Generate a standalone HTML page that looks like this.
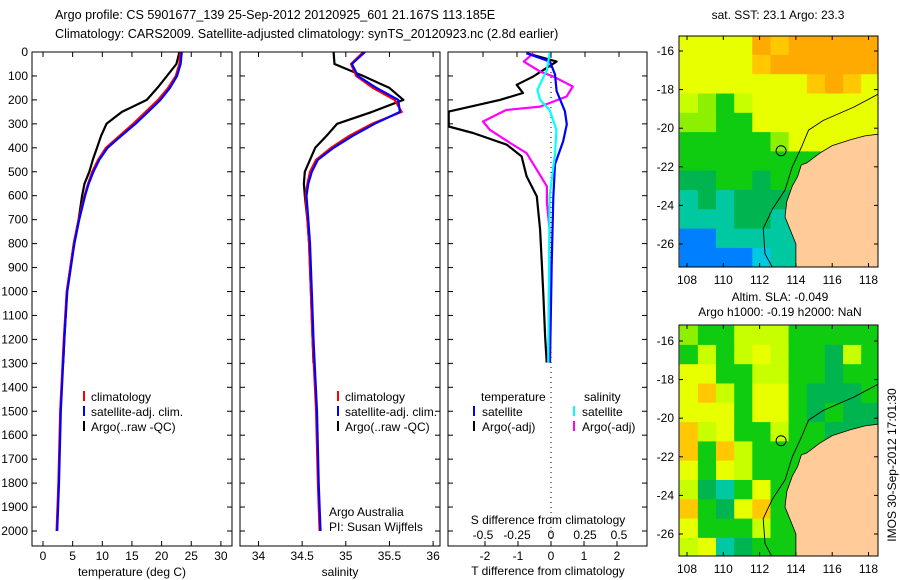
<!DOCTYPE html>
<html><head><meta charset="utf-8">
<style>
html,body{margin:0;padding:0;background:#fff;}
svg{display:block;font-family:"Liberation Sans",sans-serif;font-size:12px;}
</style></head>
<body>
<svg id="fig" width="900" height="580" viewBox="0 0 900 580">
<text x="55" y="19" font-size="12.6">Argo profile: CS 5901677_139 25-Sep-2012 20120925_601 21.167S 113.185E</text>
<text x="55" y="38" font-size="12.6">Climatology: CARS2009. Satellite-adjusted climatology: synTS_20120923.nc (2.8d earlier)</text>
<g id="plots"></g>
<text x="778" y="19" text-anchor="middle">sat. SST: 23.1 Argo: 23.3</text>
<text x="780" y="301" text-anchor="middle">Altim. SLA: -0.049</text>
<text x="780" y="316" text-anchor="middle">Argo h1000: -0.19 h2000: NaN</text>
<text transform="translate(896,465) rotate(-90)" text-anchor="middle">IMOS 30-Sep-2012 17:01:30</text>
</svg>
<script>
// ---- Profile data (depth in m) ----
const depthTicks = [0,100,200,300,400,500,600,700,800,900,1000,1100,1200,1300,1400,1500,1600,1700,1800,1900,2000];
const tempTicks = [0,5,10,15,20,25,30];
const salTicks = [34,34.5,35,35.5,36];
const salTickLabels = ["34","34.5","35","35.5","36"];
const tdiffTicks = [-2,-1,0,1,2];
const sdiffTicks = [-0.5,-0.25,0,0.25,0.5];
const sdiffTickLabels = ["-0.5","-0.25","0","0.25","0.5"];

const climDepth = [0,50,100,150,200,250,300,350,400,450,500,550,600,700,800,1000,1200,1500,1800,2000];
const climTemp  = [23.2,23.0,22.4,21.1,19.4,17.3,15.2,12.9,10.6,9.3,8.3,7.6,7.0,6.0,5.2,4.0,3.5,2.9,2.6,2.3];
const satTemp   = [23.4,23.2,22.6,21.4,19.8,17.7,15.6,13.2,10.9,9.5,8.5,7.7,7.1,6.1,5.3,4.1,3.6,3.0,2.7,2.4];
const climSal   = [35.2,35.06,35.12,35.31,35.56,35.64,35.3,35.04,34.83,34.66,34.59,34.56,34.54,34.56,34.58,34.6,34.62,34.66,34.68,34.7];
const satSal    = [35.22,35.07,35.14,35.35,35.6,35.62,35.33,35.08,34.86,34.68,34.61,34.57,34.55,34.57,34.59,34.61,34.63,34.67,34.69,34.71];

const argoDepth = [0,50,100,150,200,250,300,350,400,450,500,550,600,700,800,1000,1200,1300];
const argoTemp  = [23.0,22.5,20.9,19.3,17.5,13.3,10.7,9.8,9.1,8.4,7.8,7.0,6.6,6.0,5.2,4.05,3.6,3.4];
const argoSal   = [34.86,34.87,35.2,35.5,35.66,35.3,34.9,34.78,34.65,34.59,34.53,34.52,34.53,34.56,34.58,34.6,34.62,34.63];

const tdDepthArgo = [5,40,103,137,171,200,249,311,338,387,436,519,603,742,882,1019,1186,1297];
const tdArgo      = [-0.74,0.17,-0.55,-1.04,-0.85,-1.55,-3.1,-3.1,-2.36,-1.34,-0.89,-0.74,-0.43,-0.33,-0.28,-0.23,-0.18,-0.13];
const tdDepthSat  = [5,40,94,163,247,302,372,469,608,885,1297];
const tdSat       = [-0.75,-0.03,0.12,0.17,0.42,0.48,0.37,0.12,0.07,0.02,-0.03];
const sdDepthArgo = [5,40,82,103,144,186,228,242,290,325,380,422,491,561,630,741,1297];
const sdArgo      = [-0.13,-0.2,-0.08,0.02,0.16,0.115,-0.08,-0.33,-0.5,-0.45,-0.3,-0.18,-0.105,-0.03,-0.03,-0.01,-0.02];
const sdDepthSat  = [5,75,158,200,242,325,422,603,1297];
const sdSat       = [-0.01,-0.03,-0.1,-0.08,-0.01,0.04,0.03,-0.01,-0.02];

// ---- Map data: 11 cols (lon 107.6..118.6) x 12 rows (lat -15.2..-27.2) ----
const palette = {O:"#ffaa00",o:"#ffc800",Y:"#e8ff00",y:"#c8ff00",Q:"#8cf000",G:"#10cc10",D:"#00b450",T:"#00c8a0",C:"#00c8e0",B:"#0080ff"};
const sstGrid = [
"YYYYOoOOOOO","YYYYoOOOOOO","YYYYYYYoOoY","yQGyYYYYYYY","QQGGYYYYYYY",
"GGGGGQYYYYY","GGGGGGGGQQQ","DDGGDGGGGGG","TDTDDDDGGGG","TTTDDTDDDDD","BBTTTTTTTTT","BBBBCTTTTTT"];
const slaGrid = [
"QGGyyyGGGGG","GyGyYyGGDyG","YYGGyyGGDGG","YoyGYYGDDDG","YYYGYYGDGDD",
"oyYGGyGGDDD","oGoyGGGGGGG","YGYyGGGGGGG","yDTGYGGGGGG","oGDYoGGGGGG","YGGGyGGGGGG","yYTDGGGGGGG"];
const landLon = [118.6,117.8,117.0,116.0,115.3,114.6,114.3,114.1,113.8,113.5,113.4,113.7,114.0,114.0,118.6];
const landLat = [-20.3,-20.4,-20.6,-20.9,-21.3,-21.8,-21.9,-22.5,-23.0,-23.8,-24.6,-25.3,-26.0,-27.2,-27.2];
const contLon = [118.6,117.2,115.5,114.7,114.3,113.8,113.4,112.7,112.2,112.3,112.7];
const contLat = [-18.2,-18.9,-19.6,-20.1,-21.0,-22.0,-23.2,-24.2,-25.2,-26.5,-27.2];
const lonTicks = [108,110,112,114,116,118];
const latTicks = [-16,-18,-20,-22,-24,-26];
const argoLon = 113.185, argoLat = -21.167;

const NS="http://www.w3.org/2000/svg";
const root=document.getElementById('plots');
function el(tag,attrs,parent){const e=document.createElementNS(NS,tag);for(const k in attrs)e.setAttribute(k,attrs[k]);(parent||root).appendChild(e);return e;}
function txt(x,y,s,anchor,parent){const t=el('text',{x:x,y:y,'text-anchor':anchor||'start'},parent);t.textContent=s;return t;}

const PT=52, PB=546;
const yD = d => PT + 0.2395*d;
const panels = [
 {name:'temperature-panel',x0:32,x1:232,fx:v=>43+5.93*v},
 {name:'salinity-panel',x0:240,x1:440,fx:v=>258.5+87.3*(v-34)},
 {name:'difference-panel',x0:448,x1:647,fx:v=>551+33*v}
];
const fS = v=>551+136*v;

function line(xs,ys,fx,color,name,w){
  const g=el('polyline',{points:xs.map((v,i)=>fx(v).toFixed(1)+','+yD(ys[i]).toFixed(1)).join(' '),fill:'none',stroke:color,'stroke-width':w||2.2,'stroke-linejoin':'round'});
  
  
  return g;
}

panels.forEach((p,pi)=>{
  const g=el('g',{});
  
  
  const cp=el('clipPath',{id:'cp'+pi},g);
  el('rect',{x:p.x0,y:PT,width:p.x1-p.x0,height:PB-PT},cp);
  const pg=el('g',{'clip-path':'url(#cp'+pi+')'},g);
  depthTicks.forEach(d=>{
    el('line',{x1:p.x0,x2:p.x0+5,y1:yD(d),y2:yD(d),stroke:'#000'},g);
    el('line',{x1:p.x1-5,x2:p.x1,y1:yD(d),y2:yD(d),stroke:'#000'},g);
  });
  if(pi==2){
    el('line',{x1:551,x2:551,y1:PT,y2:PB,stroke:'#000','stroke-dasharray':'1,4'},pg);
    pg.appendChild(line(tdArgo,tdDepthArgo,p.fx,'#000','argo-temp-diff-line'));
    pg.appendChild(line(sdArgo,sdDepthArgo,fS,'#ff00ff','argo-sal-diff-line'));
    pg.appendChild(line(tdSat,tdDepthSat,p.fx,'#0000ff','sat-temp-diff-line'));
    pg.appendChild(line(sdSat,sdDepthSat,fS,'#00ffff','sat-sal-diff-line'));
    tdiffTicks.forEach(v=>{const x=p.fx(v);el('line',{x1:x,x2:x,y1:PB-5,y2:PB,stroke:'#000'},g);txt(x,560,String(v),'middle',g);});
    sdiffTicks.forEach((v,i)=>{const x=fS(v);el('line',{x1:x,x2:x,y1:PT,y2:PT+5,stroke:'#000'},g);txt(x,539,sdiffTickLabels[i],'middle',g);});
    txt(548,524,'S difference from climatology','middle',g);
    txt(548,575,'T difference from climatology','middle',g);
    txt(481,401,'temperature','start',g); txt(584,401,'salinity','start',g);
    [['satellite','#0000ff',473,416],['Argo(-adj)','#000',473,431],['satellite','#00ffff',573,416],['Argo(-adj)','#ff00ff',573,431]].forEach(l=>{
      el('rect',{x:l[2],y:l[3]-10,width:2,height:10,fill:l[1]},g);txt(l[2]+9,l[3],l[0],'start',g);});
  } else {
    const xsC = pi==0?climTemp:climSal, xsS = pi==0?satTemp:satSal, xsA = pi==0?argoTemp:argoSal;
    pg.appendChild(line(xsA,argoDepth,p.fx,'#000','argo-profile-line'));
    pg.appendChild(line(xsC,climDepth,p.fx,'#ff0000','climatology-line'));
    pg.appendChild(line(xsS,climDepth,p.fx,'#0000ff','satellite-adj-line'));
    const ticks = pi==0?tempTicks:salTicks;
    ticks.forEach((v,i)=>{const x=p.fx(v);
      el('line',{x1:x,x2:x,y1:PB-5,y2:PB,stroke:'#000'},g);el('line',{x1:x,x2:x,y1:PT,y2:PT+5,stroke:'#000'},g);
      txt(x,560,pi==0?String(v):salTickLabels[i],'middle',g);});
    txt((p.x0+p.x1)/2,576,pi==0?'temperature (deg C)':'salinity','middle',g);
    const lx = pi==0?83:337;
    [['climatology','#ff0000',401],['satellite-adj. clim.','#0000ff',416],['Argo(..raw -QC)','#000',431]].forEach(l=>{
      el('rect',{x:lx,y:l[2]-10,width:2,height:10,fill:l[1]},g);txt(lx+8,l[2],l[0],'start',g);});
    if(pi==0) depthTicks.forEach(d=>txt(28,yD(d)+4,String(d),'end',g));
    if(pi==1){txt(329,516,'Argo Australia','start',g);txt(329,531,'PI: Susan Wijffels','start',g);}
  }
  el('rect',{x:p.x0,y:PT,width:p.x1-p.x0,height:PB-PT,fill:'none',stroke:'#000'},g);
});

// ---- Maps ----
function drawMap(name,grid,top,lat16y,bottom){
  const g=el('g',{});
  
  
  const x0=679,x1=878;
  const fx=lon=>687+18.15*(lon-108);
  const fy=lat=>lat16y+19.3*(-16-lat);
  const id='mc'+name;
  const cp=el('clipPath',{id:id},g);
  el('rect',{x:x0,y:top,width:x1-x0,height:bottom-top},cp);
  const mg=el('g',{'clip-path':'url(#'+id+')'},g);
  grid.forEach((row,r)=>{
    for(let c=0;c<row.length;c++){
      const lon=107.6+c, lat=-15.2-r;
      const cell=el('rect',{x:fx(lon).toFixed(1),y:fy(lat).toFixed(1),width:19.2,height:20.3,fill:palette[row[c]]},mg);
      
      
    }
  });
  const land=el('polygon',{points:landLon.map((v,i)=>fx(v).toFixed(1)+','+fy(landLat[i]).toFixed(1)).join(' '),fill:'#ffcc99',stroke:'#000','stroke-width':0.8},mg);
  
  
  const cont=el('polyline',{points:contLon.map((v,i)=>fx(v).toFixed(1)+','+fy(contLat[i]).toFixed(1)).join(' '),fill:'none',stroke:'#000','stroke-width':0.9},mg);
  
  
  const pos=el('circle',{cx:fx(argoLon),cy:fy(argoLat),r:5,fill:'none',stroke:'#000','stroke-width':1},mg);
  
  
  lonTicks.forEach(v=>{const x=fx(v);el('line',{x1:x,x2:x,y1:bottom-4,y2:bottom,stroke:'#000'},g);el('line',{x1:x,x2:x,y1:top,y2:top+4,stroke:'#000'},g);txt(x,bottom+17,String(v),'middle',g);});
  latTicks.forEach(v=>{const y=fy(v);el('line',{x1:x0,x2:x0+4,y1:y,y2:y,stroke:'#000'},g);el('line',{x1:x1-4,x2:x1,y1:y,y2:y,stroke:'#000'},g);txt(674,y+4,String(v),'end',g);});
  el('rect',{x:x0,y:top,width:x1-x0,height:bottom-top,fill:'none',stroke:'#000'},g);
}
drawMap('sst-map',sstGrid,36,51,267);
drawMap('sla-map',slaGrid,325,341,556);
</script>
</body></html>
